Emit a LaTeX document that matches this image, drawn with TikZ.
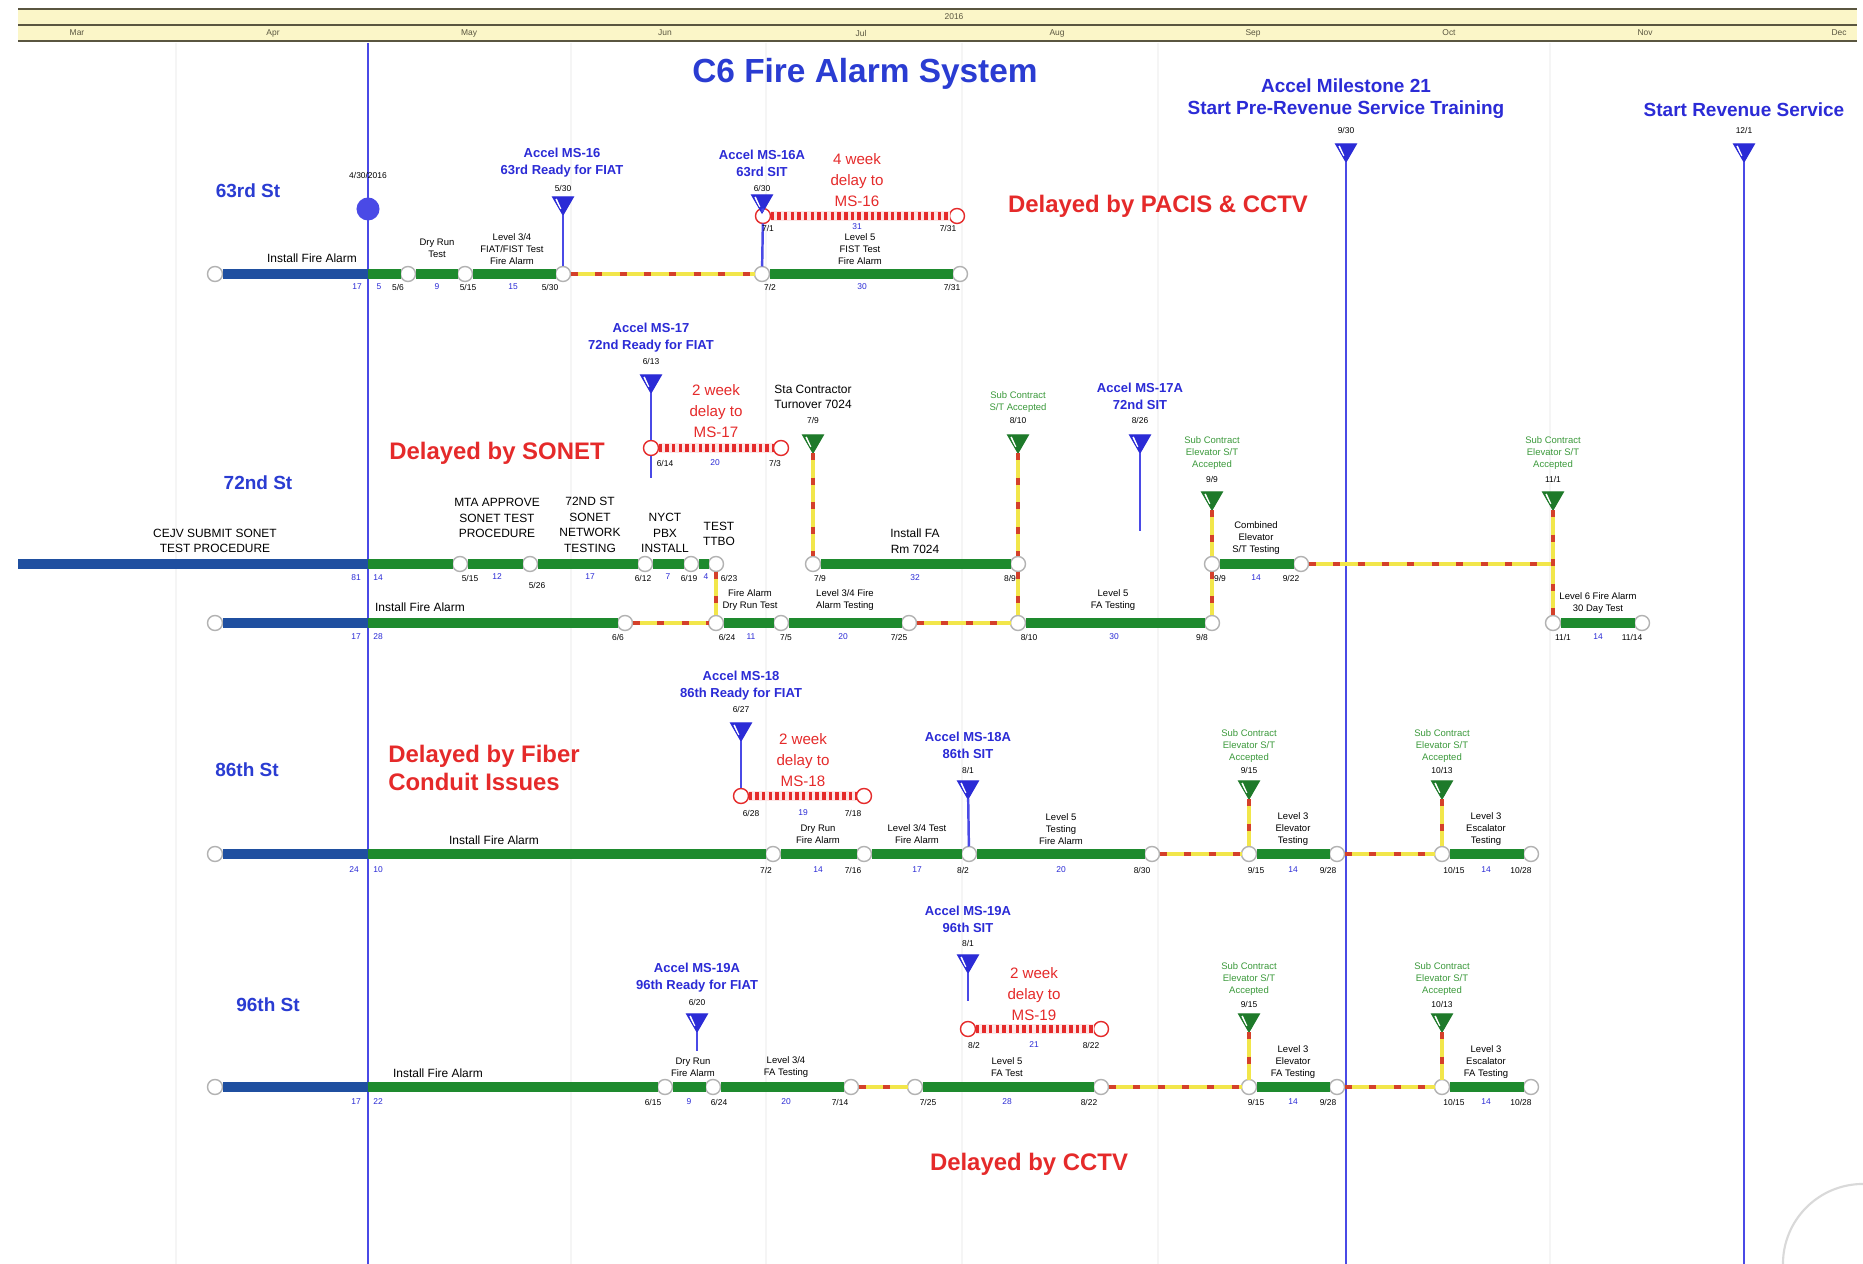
\documentclass[tikz,border=0pt]{standalone}
\usepackage{fontspec}
\setmainfont{Liberation Sans}
\usetikzlibrary{shapes.geometric}
\definecolor{titleblue}{HTML}{2A3CD2}
\definecolor{msblue}{HTML}{2B2BD6}
\definecolor{lineblue}{HTML}{4A4AE6}
\definecolor{donebar}{HTML}{1F4FA0}
\definecolor{todobar}{HTML}{1E8A2E}
\definecolor{msgreen}{HTML}{1E7A2A}
\definecolor{labelgreen}{HTML}{3C9A3C}
\definecolor{delayred}{HTML}{E52A2A}
\definecolor{linkyellow}{HTML}{F2E64A}
\definecolor{linkred}{HTML}{D4402A}
\definecolor{bandyellow}{HTML}{FBF6C8}
\definecolor{bandline}{HTML}{5A5640}

\begin{document}
\begin{tikzpicture}[x=0.01cm,y=-0.01cm,
  every node/.style={inner sep=0pt,outer sep=0pt},
  act/.style={circle,draw=gray!60,fill=white,line width=0.4pt,minimum size=0.15cm},
  actd/.style={act,draw=delayred},
  done/.style={draw=donebar,line width=2.6pt},
  todo/.style={draw=todobar,line width=2.6pt},
  link/.style={draw=linkred,line width=0.9pt,dash pattern=on 2pt off 5pt,
    preaction={draw=linkyellow,line width=1.4pt,solid}},
  delay/.style={draw=delayred,line width=2pt,dash pattern=on 1pt off 0.9pt,
    preaction={draw=delayred!12,line width=2.8pt,solid}},
  stem/.style={draw=lineblue,line width=0.7pt},
  gridln/.style={draw=gray!8,line width=0.5pt},
  msb/.style={regular polygon,regular polygon sides=3,shape border rotate=180,
    minimum size=0.24cm,fill=msblue,draw=msblue,line width=0.3pt,
    path picture={\draw[white,line width=0.45pt]
      ([shift={(0.035cm,-0.02cm)}]path picture bounding box.north west) --
      ([shift={(0.08cm,-0.12cm)}]path picture bounding box.north west);}},
  msg/.style={msb,fill=msgreen,draw=msgreen},
  lbl/.style={font=\fontsize{2.7}{3.4}\selectfont,align=center},
  lblb/.style={font=\fontsize{3.4}{4.4}\selectfont,align=center},
  dt/.style={font=\fontsize{2.4}{2.8}\selectfont},
  dur/.style={dt,text=msblue},
  mslbl/.style={font=\bfseries\fontsize{3.7}{4.8}\selectfont,text=msblue,align=center},
  bigms/.style={font=\bfseries\fontsize{5.4}{6.3}\selectfont,text=msblue,align=center},
  grlbl/.style={lbl,text=labelgreen},
  note/.style={font=\fontsize{4.3}{6}\selectfont,text=delayred,align=center},
  delaytxt/.style={font=\bfseries\fontsize{6.8}{8}\selectfont,text=delayred,align=left},
  station/.style={font=\bfseries\fontsize{5.4}{6.5}\selectfont,text=titleblue}
]
  \useasboundingbox (0,0) rectangle (1863,1264);
  \fill[white] (0,0) rectangle (1863,1264);

  % month grid
  \draw[gridln] (176,43) -- (176,1264);
  \draw[gridln] (571,43) -- (571,1264);
  \draw[gridln] (766,43) -- (766,1264);
  \draw[gridln] (962,43) -- (962,1264);
  \draw[gridln] (1158,43) -- (1158,1264);
  \draw[gridln] (1550,43) -- (1550,1264);

  % time scale
  \fill[bandyellow] (18,10) rectangle (1857,40);
  \draw[bandline,line width=0.8pt] (18,9) -- (1857,9);
  \draw[bandline,line width=0.8pt] (18,25) -- (1857,25);
  \draw[bandline,line width=0.8pt] (18,41) -- (1857,41);
  \node[dt,text=bandline] (yr) at (954,17) {2016};
  \node[dt,text=bandline] (mon3) at (77,33) {Mar};
  \node[dt,text=bandline] (mon4) at (273,33) {Apr};
  \node[dt,text=bandline] (mon5) at (469,33) {May};
  \node[dt,text=bandline] (mon6) at (665,33) {Jun};
  \node[dt,text=bandline] (mon7) at (861,33) {Jul};
  \node[dt,text=bandline] (mon8) at (1057,33) {Aug};
  \node[dt,text=bandline] (mon9) at (1253,33) {Sep};
  \node[dt,text=bandline] (mon10) at (1449,33) {Oct};
  \node[dt,text=bandline] (mon11) at (1645,33) {Nov};
  \node[dt,text=bandline] (mon12) at (1839,33) {Dec};

  \node[font=\bfseries\fontsize{9.5}{11}\selectfont,text=titleblue] (title) at (865,74)
    {C6 Fire Alarm System};

  % data date
  \coordinate (dd-top) at (368,43);
  \coordinate (dd-bot) at (368,1264);
  \draw[stem] (dd-top) -- (dd-bot);
  \node[dt] (dd-lbl) at (368,175) {4/30/2016};
  \node[circle,fill=lineblue,minimum size=0.23cm] (ddmark) at (368,209) {};

  % big milestones
  \node[bigms] (m21-lbl) at (1346,99) {Accel Milestone 21\\Start Pre-Revenue Service Training};
  \node[dt] (m21-date) at (1346,130) {9/30};
  \node[msb] (m21) at (1346,150) {};
  \coordinate (m21-bot) at (1346,1264);
  \draw[stem] (m21) -- (m21-bot);
  \node[bigms] (rev-lbl) at (1744,110) {Start Revenue Service};
  \node[dt] (rev-date) at (1744,130) {12/1};
  \node[msb] (rev) at (1744,150) {};
  \coordinate (rev-bot) at (1744,1264);
  \draw[stem] (rev) -- (rev-bot);

  % ---------------- 63rd St
  \node[station] (st63) at (248,191) {63rd St};
  \node[act] (a63s) at (215,274) {};
  \coordinate (dd63) at (368,274);
  \node[act] (a63a) at (408,274) {};
  \node[act] (a63b) at (465,274) {};
  \node[act] (a63c) at (563,274) {};
  \node[act] (a63d) at (762,274) {};
  \node[act] (a63e) at (960,274) {};
  \draw[done] (a63s) -- (dd63);
  \draw[todo] (dd63) -- (a63a);
  \draw[todo] (a63a) -- (a63b);
  \draw[todo] (a63b) -- (a63c);
  \draw[link] (a63c) -- (a63d);
  \draw[todo] (a63d) -- (a63e);
  \node[actd] (d63a) at (763,216) {};
  \node[actd] (d63b) at (957,216) {};
  \draw[delay] (d63a) -- (d63b);
  \node[mslbl] (ms16-lbl) at (562,163) {Accel MS-16\\63rd Ready for FIAT};
  \node[dt] (ms16-date) at (563,188) {5/30};
  \node[msb] (ms16) at (563,203) {};
  \draw[stem] (ms16) -- (a63c);
  \node[mslbl] (ms16a-lbl) at (762,163) {Accel MS-16A\\63rd SIT};
  \node[dt] (ms16a-date) at (762,188) {6/30};
  \node[msb] (ms16a) at (762,201) {};
  \draw[stem] (ms16a) -- (d63a);
  \draw[stem] (d63a) -- (a63d);
  \node[note] (n63) at (857,180) {4 week\\delay to\\MS-16};
  \node[lblb] (t63a) at (312,258) {Install Fire Alarm};
  \node[lbl] (t63b) at (437,248) {Dry Run\\Test};
  \node[lbl] (t63c) at (512,249) {Level 3/4\\FIAT/FIST Test\\Fire Alarm};
  \node[lbl] (t63d) at (860,249) {Level 5\\FIST Test\\Fire Alarm};
  \node[dur] (b63a) at (357,287) {17};
  \node[dur] (b63b) at (379,287) {5};
  \node[dt] (b63c) at (398,287) {5/6};
  \node[dur] (b63d) at (437,287) {9};
  \node[dt] (b63e) at (468,287) {5/15};
  \node[dur] (b63f) at (513,287) {15};
  \node[dt] (b63g) at (550,287) {5/30};
  \node[dt] (b63h) at (770,287) {7/2};
  \node[dur] (b63i) at (862,287) {30};
  \node[dt] (b63j) at (952,287) {7/31};
  \node[dt] (e63a) at (768,228) {7/1};
  \node[dur] (e63b) at (857,227) {31};
  \node[dt] (e63c) at (948,228) {7/31};
  \node[delaytxt] (dl63) at (1158,206) {Delayed by PACIS \& CCTV};

  % ---------------- 72nd St
  \node[station] (st72) at (258,483) {72nd St};
  \node[delaytxt] (dl72) at (497,453) {Delayed by SONET};
  \coordinate (u72s) at (18,564);
  \coordinate (dd72u) at (368,564);
  \node[act] (u72a) at (460,564) {};
  \node[act] (u72b) at (530,564) {};
  \node[act] (u72c) at (645,564) {};
  \node[act] (u72d) at (691,564) {};
  \node[act] (u72e) at (716,564) {};
  \node[act] (u72f) at (813,564) {};
  \node[act] (u72g) at (1018,564) {};
  \node[act] (u72h) at (1212,564) {};
  \node[act] (u72i) at (1301,564) {};
  \coordinate (j72) at (1553,564);
  \node[act] (l72s) at (215,623) {};
  \coordinate (dd72l) at (368,623);
  \node[act] (l72a) at (625,623) {};
  \node[act] (l72b) at (716,623) {};
  \node[act] (l72c) at (781,623) {};
  \node[act] (l72d) at (909,623) {};
  \node[act] (l72e) at (1018,623) {};
  \node[act] (l72f) at (1212,623) {};
  \node[act] (l72g) at (1553,623) {};
  \node[act] (l72h) at (1642,623) {};
  \draw[done] (u72s) -- (dd72u);
  \draw[todo] (dd72u) -- (u72a);
  \draw[todo] (u72a) -- (u72b);
  \draw[todo] (u72b) -- (u72c);
  \draw[todo] (u72c) -- (u72d);
  \draw[todo] (u72d) -- (u72e);
  \draw[todo] (u72f) -- (u72g);
  \draw[todo] (u72h) -- (u72i);
  \draw[link] (u72i) -- (j72);
  \draw[done] (l72s) -- (dd72l);
  \draw[todo] (dd72l) -- (l72a);
  \draw[link] (l72a) -- (l72b);
  \draw[todo] (l72b) -- (l72c);
  \draw[todo] (l72c) -- (l72d);
  \draw[link] (l72d) -- (l72e);
  \draw[todo] (l72e) -- (l72f);
  \draw[todo] (l72g) -- (l72h);
  \draw[link] (u72e) -- (l72b);
  \draw[link] (u72g) -- (l72e);
  \draw[link] (u72h) -- (l72f);
  % milestones
  \node[mslbl] (ms17-lbl) at (651,338) {Accel MS-17\\72nd Ready for FIAT};
  \node[dt] (ms17-date) at (651,361) {6/13};
  \node[msb] (ms17) at (651,381) {};
  \node[actd] (d72a) at (651,448) {};
  \node[actd] (d72b) at (781,448) {};
  \coordinate (ms17-end) at (651,478);
  \draw[stem] (ms17) -- (d72a);
  \draw[stem] (d72a) -- (ms17-end);
  \draw[delay] (d72a) -- (d72b);
  \node[dt] (e72a) at (665,463) {6/14};
  \node[dur] (e72b) at (715,463) {20};
  \node[dt] (e72c) at (775,463) {7/3};
  \node[note] (n72) at (716,411) {2 week\\delay to\\MS-17};
  \node[lblb] (sta-lbl) at (813,397) {Sta Contractor\\Turnover 7024};
  \node[dt] (sta-date) at (813,420) {7/9};
  \node[msg] (sta) at (813,441) {};
  \draw[link] (sta) -- (u72f);
  \node[grlbl] (sub72a-lbl) at (1018,402) {Sub Contract\\S/T Accepted};
  \node[dt] (sub72a-date) at (1018,420) {8/10};
  \node[msg] (sub72a) at (1018,441) {};
  \draw[link] (sub72a) -- (u72g);
  \node[mslbl] (ms17a-lbl) at (1140,396) {Accel MS-17A\\72nd SIT};
  \node[dt] (ms17a-date) at (1140,420) {8/26};
  \node[msb] (ms17a) at (1140,441) {};
  \coordinate (ms17a-end) at (1140,531);
  \draw[stem] (ms17a) -- (ms17a-end);
  \node[grlbl] (sub72b-lbl) at (1212,453) {Sub Contract\\Elevator S/T\\Accepted};
  \node[dt] (sub72b-date) at (1212,479) {9/9};
  \node[msg] (sub72b) at (1212,498) {};
  \draw[link] (sub72b) -- (u72h);
  \node[grlbl] (sub72c-lbl) at (1553,453) {Sub Contract\\Elevator S/T\\Accepted};
  \node[dt] (sub72c-date) at (1553,479) {11/1};
  \node[msg] (sub72c) at (1553,498) {};
  \draw[link] (sub72c) -- (l72g);
  % activity texts
  \node[lblb] (t72a) at (215,541) {CEJV SUBMIT SONET\\TEST PROCEDURE};
  \node[lblb] (t72b) at (497,518) {MTA APPROVE\\SONET TEST\\PROCEDURE};
  \node[lblb] (t72c) at (590,525) {72ND ST\\SONET\\NETWORK\\TESTING};
  \node[lblb] (t72d) at (665,533) {NYCT\\PBX\\INSTALL};
  \node[lblb] (t72e) at (719,534) {TEST\\TTBO};
  \node[lblb] (t72f) at (915,541) {Install FA\\Rm 7024};
  \node[lbl] (t72g) at (1256,538) {Combined\\Elevator\\S/T Testing};
  \node[lblb] (t72h) at (420,607) {Install Fire Alarm};
  \node[lbl] (t72i) at (750,600) {Fire Alarm\\Dry Run Test};
  \node[lbl] (t72j) at (845,600) {Level 3/4 Fire\\Alarm Testing};
  \node[lbl] (t72k) at (1113,600) {Level 5\\FA Testing};
  \node[lbl] (t72l) at (1598,603) {Level 6 Fire Alarm\\30 Day Test};
  \node[dur] (b72a) at (356,578) {81};
  \node[dur] (b72b) at (378,578) {14};
  \node[dt] (b72c) at (470,578) {5/15};
  \node[dur] (b72d) at (497,577) {12};
  \node[dt] (b72e) at (537,585) {5/26};
  \node[dur] (b72f) at (590,577) {17};
  \node[dt] (b72g) at (643,578) {6/12};
  \node[dur] (b72h) at (668,577) {7};
  \node[dt] (b72i) at (689,578) {6/19};
  \node[dur] (b72j) at (706,577) {4};
  \node[dt] (b72k) at (729,578) {6/23};
  \node[dt] (b72l) at (820,578) {7/9};
  \node[dur] (b72m) at (915,578) {32};
  \node[dt] (b72n) at (1010,578) {8/9};
  \node[dt] (b72o) at (1220,578) {9/9};
  \node[dur] (b72p) at (1256,578) {14};
  \node[dt] (b72q) at (1291,578) {9/22};
  \node[dur] (c72a) at (356,637) {17};
  \node[dur] (c72b) at (378,637) {28};
  \node[dt] (c72c) at (618,637) {6/6};
  \node[dt] (c72d) at (727,637) {6/24};
  \node[dur] (c72e) at (751,637) {11};
  \node[dt] (c72f) at (786,637) {7/5};
  \node[dur] (c72g) at (843,637) {20};
  \node[dt] (c72h) at (899,637) {7/25};
  \node[dt] (c72i) at (1029,637) {8/10};
  \node[dur] (c72j) at (1114,637) {30};
  \node[dt] (c72k) at (1202,637) {9/8};
  \node[dt] (c72l) at (1563,637) {11/1};
  \node[dur] (c72m) at (1598,637) {14};
  \node[dt] (c72n) at (1632,637) {11/14};

  % ---------------- 86th St
  \node[station] (st86) at (247,770) {86th St};
  \node[delaytxt] (dl86) at (484,768) {Delayed by Fiber\\Conduit Issues};
  \node[act] (r86s) at (215,854) {};
  \coordinate (dd86) at (368,854);
  \node[act] (r86a) at (773,854) {};
  \node[act] (r86b) at (864,854) {};
  \node[act] (r86c) at (969,854) {};
  \node[act] (r86d) at (1152,854) {};
  \node[act] (r86e) at (1249,854) {};
  \node[act] (r86f) at (1337,854) {};
  \node[act] (r86g) at (1442,854) {};
  \node[act] (r86h) at (1531,854) {};
  \draw[done] (r86s) -- (dd86);
  \draw[todo] (dd86) -- (r86a);
  \draw[todo] (r86a) -- (r86b);
  \draw[todo] (r86b) -- (r86c);
  \draw[todo] (r86c) -- (r86d);
  \draw[link] (r86d) -- (r86e);
  \draw[todo] (r86e) -- (r86f);
  \draw[link] (r86f) -- (r86g);
  \draw[todo] (r86g) -- (r86h);
  \node[mslbl] (ms18-lbl) at (741,686) {Accel MS-18\\86th Ready for FIAT};
  \node[dt] (ms18-date) at (741,709) {6/27};
  \node[msb] (ms18) at (741,729) {};
  \node[actd] (d86a) at (741,796) {};
  \node[actd] (d86b) at (864,796) {};
  \draw[stem] (ms18) -- (d86a);
  \draw[delay] (d86a) -- (d86b);
  \node[dt] (e86a) at (751,813) {6/28};
  \node[dur] (e86b) at (803,813) {19};
  \node[dt] (e86c) at (853,813) {7/18};
  \node[note] (n86) at (803,760) {2 week\\delay to\\MS-18};
  \node[mslbl] (ms18a-lbl) at (968,745) {Accel MS-18A\\86th SIT};
  \node[dt] (ms18a-date) at (968,770) {8/1};
  \node[msb] (ms18a) at (968,787) {};
  \draw[stem] (ms18a) -- (r86c);
  \node[grlbl] (sub86a-lbl) at (1249,746) {Sub Contract\\Elevator S/T\\Accepted};
  \node[dt] (sub86a-date) at (1249,770) {9/15};
  \node[msg] (sub86a) at (1249,787) {};
  \draw[link] (sub86a) -- (r86e);
  \node[grlbl] (sub86b-lbl) at (1442,746) {Sub Contract\\Elevator S/T\\Accepted};
  \node[dt] (sub86b-date) at (1442,770) {10/13};
  \node[msg] (sub86b) at (1442,787) {};
  \draw[link] (sub86b) -- (r86g);
  \node[lblb] (t86a) at (494,840) {Install Fire Alarm};
  \node[lbl] (t86b) at (818,834) {Dry Run\\Fire Alarm};
  \node[lbl] (t86c) at (917,834) {Level 3/4 Test\\Fire Alarm};
  \node[lbl] (t86d) at (1061,829) {Level 5\\Testing\\Fire Alarm};
  \node[lbl] (t86e) at (1293,829) {Level 3\\Elevator\\Testing};
  \node[lbl] (t86f) at (1486,829) {Level 3\\Escalator\\Testing};
  \node[dur] (b86a) at (354,870) {24};
  \node[dur] (b86b) at (378,870) {10};
  \node[dt] (b86c) at (766,870) {7/2};
  \node[dur] (b86d) at (818,870) {14};
  \node[dt] (b86e) at (853,870) {7/16};
  \node[dur] (b86f) at (917,870) {17};
  \node[dt] (b86g) at (963,870) {8/2};
  \node[dur] (b86h) at (1061,870) {20};
  \node[dt] (b86i) at (1142,870) {8/30};
  \node[dt] (b86j) at (1256,870) {9/15};
  \node[dur] (b86k) at (1293,870) {14};
  \node[dt] (b86l) at (1328,870) {9/28};
  \node[dt] (b86m) at (1454,870) {10/15};
  \node[dur] (b86n) at (1486,870) {14};
  \node[dt] (b86o) at (1521,870) {10/28};

  % ---------------- 96th St
  \node[station] (st96) at (268,1005) {96th St};
  \node[act] (r96s) at (215,1087) {};
  \coordinate (dd96) at (368,1087);
  \node[act] (r96a) at (665,1087) {};
  \node[act] (r96b) at (713,1087) {};
  \node[act] (r96c) at (851,1087) {};
  \node[act] (r96d) at (915,1087) {};
  \node[act] (r96e) at (1101,1087) {};
  \node[act] (r96f) at (1249,1087) {};
  \node[act] (r96g) at (1337,1087) {};
  \node[act] (r96h) at (1442,1087) {};
  \node[act] (r96i) at (1531,1087) {};
  \draw[done] (r96s) -- (dd96);
  \draw[todo] (dd96) -- (r96a);
  \draw[todo] (r96a) -- (r96b);
  \draw[todo] (r96b) -- (r96c);
  \draw[link] (r96c) -- (r96d);
  \draw[todo] (r96d) -- (r96e);
  \draw[link] (r96e) -- (r96f);
  \draw[todo] (r96f) -- (r96g);
  \draw[link] (r96g) -- (r96h);
  \draw[todo] (r96h) -- (r96i);
  \node[mslbl] (ms19r-lbl) at (697,978) {Accel MS-19A\\96th Ready for FIAT};
  \node[dt] (ms19r-date) at (697,1002) {6/20};
  \node[msb] (ms19r) at (697,1020) {};
  \coordinate (ms19r-end) at (697,1051);
  \draw[stem] (ms19r) -- (ms19r-end);
  \node[mslbl] (ms19s-lbl) at (968,919) {Accel MS-19A\\96th SIT};
  \node[dt] (ms19s-date) at (968,943) {8/1};
  \node[msb] (ms19s) at (968,961) {};
  \coordinate (ms19s-end) at (968,1001);
  \draw[stem] (ms19s) -- (ms19s-end);
  \node[actd] (d96a) at (968,1029) {};
  \node[actd] (d96b) at (1101,1029) {};
  \draw[delay] (d96a) -- (d96b);
  \node[dt] (e96a) at (974,1045) {8/2};
  \node[dur] (e96b) at (1034,1045) {21};
  \node[dt] (e96c) at (1091,1045) {8/22};
  \node[note] (n96) at (1034,994) {2 week\\delay to\\MS-19};
  \node[grlbl] (sub96a-lbl) at (1249,979) {Sub Contract\\Elevator S/T\\Accepted};
  \node[dt] (sub96a-date) at (1249,1004) {9/15};
  \node[msg] (sub96a) at (1249,1020) {};
  \draw[link] (sub96a) -- (r96f);
  \node[grlbl] (sub96b-lbl) at (1442,979) {Sub Contract\\Elevator S/T\\Accepted};
  \node[dt] (sub96b-date) at (1442,1004) {10/13};
  \node[msg] (sub96b) at (1442,1020) {};
  \draw[link] (sub96b) -- (r96h);
  \node[lblb] (t96a) at (438,1073) {Install Fire Alarm};
  \node[lbl] (t96b) at (693,1067) {Dry Run\\Fire Alarm};
  \node[lbl] (t96c) at (786,1067) {Level 3/4\\FA Testing};
  \node[lbl] (t96d) at (1007,1067) {Level 5\\FA Test};
  \node[lbl] (t96e) at (1293,1062) {Level 3\\Elevator\\FA Testing};
  \node[lbl] (t96f) at (1486,1062) {Level 3\\Escalator\\FA Testing};
  \node[dur] (b96a) at (356,1102) {17};
  \node[dur] (b96b) at (378,1102) {22};
  \node[dt] (b96c) at (653,1102) {6/15};
  \node[dur] (b96d) at (689,1102) {9};
  \node[dt] (b96e) at (719,1102) {6/24};
  \node[dur] (b96f) at (786,1102) {20};
  \node[dt] (b96g) at (840,1102) {7/14};
  \node[dt] (b96h) at (928,1102) {7/25};
  \node[dur] (b96i) at (1007,1102) {28};
  \node[dt] (b96j) at (1089,1102) {8/22};
  \node[dt] (b96k) at (1256,1102) {9/15};
  \node[dur] (b96l) at (1293,1102) {14};
  \node[dt] (b96m) at (1328,1102) {9/28};
  \node[dt] (b96n) at (1454,1102) {10/15};
  \node[dur] (b96o) at (1486,1102) {14};
  \node[dt] (b96p) at (1521,1102) {10/28};
  \node[delaytxt] (dl96) at (1029,1164) {Delayed by CCTV};

  % page corner
  \draw[gray!30,fill=white,line width=0.6pt] (1863,1264) circle [radius=0.8cm];
\end{tikzpicture}
\end{document}
